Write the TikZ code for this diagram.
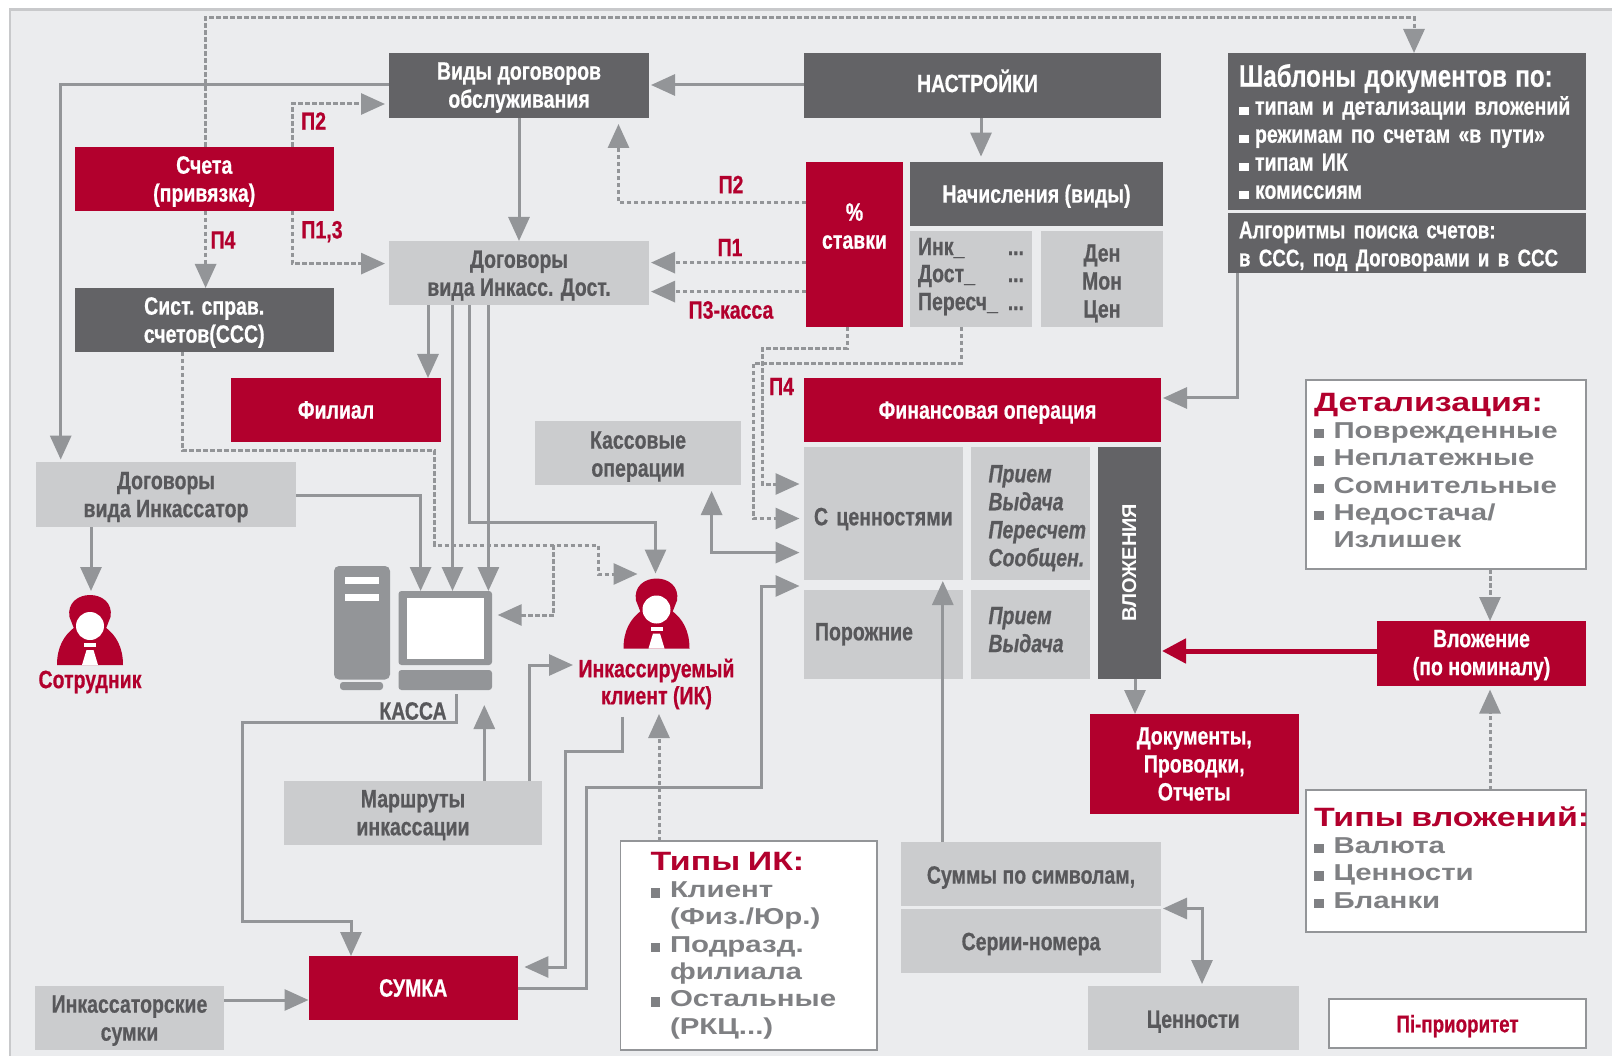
\documentclass[tikz,border=0pt]{standalone}
\usepackage{fontspec}
\usetikzlibrary{arrows.meta}
\setmainfont{Liberation Sans}
\newfontfamily\nar[FakeStretch=0.78,FakeBold=0.6]{Liberation Sans}
\newfontfamily\wid[FakeStretch=1.28]{Liberation Sans}
\definecolor{bgc}{HTML}{EBECEE}
\definecolor{edgec}{HTML}{C8C9CB}
\definecolor{darkc}{HTML}{636366}
\definecolor{lightc}{HTML}{CBCCCE}
\definecolor{redc}{HTML}{B2002D}
\definecolor{linec}{HTML}{939598}
\definecolor{inkc}{HTML}{58585B}
\definecolor{softc}{HTML}{7F8083}
\tikzset{
 box/.style={inner sep=0pt,outer sep=0pt,align=center,font=\nar\fontsize{25}{28}\selectfont\bfseries},
 darkbox/.style={box,fill=darkc,text=white},
 lightbox/.style={box,fill=lightc,text=inkc},
 redbox/.style={box,fill=redc,text=white},
 whitebox/.style={box,fill=white,draw=linec,line width=1.5pt,align=left,text=softc,font=\wid\fontsize{23}{27.3}\selectfont\bfseries},
 conn/.style={draw=linec,line width=3pt,-{Triangle[length=24pt,width=21pt]}},
 dconn/.style={conn,dash pattern=on 4.5pt off 2.5pt},
 both/.style={draw=linec,line width=3pt,{Triangle[length=24pt,width=21pt]}-{Triangle[length=24pt,width=21pt]}},
 redconn/.style={draw=redc,line width=5pt,-{Triangle[length=24pt,width=24pt]}},
 tag/.style={inner sep=0pt,text=redc,font=\nar\fontsize{25}{27}\selectfont\bfseries,align=center},
 person/.pic={
  \fill[redc] (-33,70) .. controls (-33,52) and (-26,40) .. (-15,32) -- (15,32) .. controls (26,40) and (33,52) .. (33,70) -- cycle;
  \fill[redc] (-15,36) -- (-20.5,22) .. controls (-23,8) and (-12,0) .. (0,0) .. controls (12,0) and (23,8) .. (20.5,22) -- (15,36) -- cycle;
  \fill[white] (0,31) ellipse [x radius=14,y radius=14];
  \fill[white] (-3.5,55) -- (3.5,55) -- (8,70) -- (-8,70) -- cycle;
  \fill[white] (-6,48) rectangle (6,52);
 }
}
\newcommand\bx[7]{\node[#2,minimum width={(#5-#3)*1pt},minimum height={(#6-#4)*1pt}] (#1) at ({(#3+#5)/2},{(#4+#6)/2}) {#7};}
\newcommand\lbx[8]{\pgfmathsetmacro\tw{#5-#3-2*#8}\node[#2,align=left,text width=\tw pt,inner xsep=#8pt,minimum height={(#6-#4)*1pt}] (#1) at ({(#3+#5)/2},{(#4+#6)/2}) {#7};}
\newcommand\sq{\rule{10pt}{8pt}\hspace{6pt}}
\newcommand\wsq{{\rule{9.5pt}{9.5pt}\hspace{10pt}}}
\newcommand\hd[1]{{\color{redc}\fontsize{26.5}{27.3}\selectfont\makebox[0pt][l]{#1}}}
% text nudges: \tz pushes a block down by about n px, \tu pulls it up
\newcommand\tz[1]{\rule{0pt}{\dimexpr18.5pt+#1pt+#1pt\relax}}
\newcommand\tu[1]{\rule[\dimexpr-5.5pt-#1pt-#1pt\relax]{0pt}{1pt}}
\begin{document}
\begin{tikzpicture}[x=1pt,y=-1pt]
\useasboundingbox (0,0) rectangle (1612,1056);
\fill[white] (0,0) rectangle (1612,1056);
\fill[edgec] (9,8) rectangle (1612,1056);
\fill[bgc] (10.5,11) rectangle (1612,1056);
% boxes
\bx{vidy}{darkbox}{389}{53}{649}{118}{\tz{1.5}Виды договоров\\обслуживания}
\bx{nast}{darkbox}{804}{53}{1161}{118}{НАСТРОЙКИ\hspace*{10pt}\tu{2}}
\bx{sch}{redbox}{74.5}{147}{334}{211}{\tz{2}Счета\\(привязка)}
\bx{sist}{darkbox}{74.5}{288}{334}{352}{\tz{2}Сист. справ.\\счетов(ССС)}
\bx{dost}{lightbox}{389}{241}{649}{305}{\tz{2}Договоры\\вида Инкасс. Дост.}
\bx{fil}{redbox}{231}{378}{441}{442}{Филиал}
\bx{kas}{lightbox}{535}{421}{741}{485}{\tz{3}Кассовые\\операции}
\bx{ink}{lightbox}{36}{462}{296}{527}{\tz{2}Договоры\\вида Инкассатор}
\bx{stav}{redbox}{806}{162}{903}{327}{\%\\ставки\rule[-37pt]{0pt}{1pt}}
\bx{nach}{darkbox}{910}{162}{1163}{226}{\tz{2}Начисления (виды)}
\lbx{inkd}{lightbox}{910}{231}{1032}{327}{\fontsize{25}{27}\selectfont Инк\_\hfill...\\Дост\_\hfill...\\Пересч\_\hfill...\rule[-10pt]{0pt}{1pt}}{8}
\bx{den}{lightbox}{1041}{231}{1163}{327}{\fontsize{25}{27}\selectfont\rule{0pt}{26pt}Ден\\Мон\\Цен}
\lbx{shab}{darkbox}{1228}{53}{1586}{210}{{\fontsize{31}{33}\selectfont Шаблоны документов по:}\\\sq типам и детализации вложений\\\sq режимам по счетам «в пути»\\\sq типам ИК\\\sq комиссиям}{11}
\lbx{algo}{darkbox}{1228}{213}{1586}{273}{\fontsize{24}{27}\selectfont\tz{2.5}Алгоритмы поиска счетов:\\в ССС, под Договорами и в ССС}{11}
\bx{fin}{redbox}{804}{378}{1161}{442}{\hspace*{10pt}\tz{2}Финансовая операция}
\lbx{det}{whitebox}{1306}{380}{1586}{569}{\hd{Детализация:}\\\wsq Поврежденные\\\wsq Неплатежные\\\wsq Сомнительные\\\wsq Недостача/\\\hspace{19.5pt}Излишек\tu{1.5}}{8}
\lbx{cenn}{lightbox}{804}{447}{963}{580}{\tz{5}С ценностями}{10}
\lbx{prv}{lightbox}{970.5}{447}{1090}{580}{\itshape\tz{4}Прием\\\itshape Выдача\\\itshape Пересчет\\\itshape Сообщен.}{18}
\lbx{porz}{lightbox}{804}{590}{963}{678.5}{Порожние}{11}
\lbx{prv2}{lightbox}{970.5}{590}{1090}{678.5}{\itshape Прием\\\itshape Выдача\tu{2}}{18}
\node[darkbox,minimum width=231.5pt,minimum height=63.5pt,rotate=90,font=\fontsize{20}{24}\selectfont\bfseries] (vl) at (1129.25,562.75) {ВЛОЖЕНИЯ};
\bx{vloz}{redbox}{1377}{621}{1586}{686}{\tz{1}Вложение\\(по номиналу)}
\bx{docs}{redbox}{1090}{714}{1298.5}{814}{Документы,\\Проводки,\\Отчеты}
\lbx{tipv}{whitebox}{1306}{790}{1586}{932}{\hd{Типы вложений:}\\\wsq Валюта\\\wsq Ценности\\\wsq Бланки\tu{1}}{8}
\bx{summ}{lightbox}{901}{842}{1161}{906}{\tz{3}Суммы по символам,}
\bx{seri}{lightbox}{901}{908.5}{1161}{972.5}{\tz{3}Серии-номера}
\bx{cen}{lightbox}{1088}{986}{1298.5}{1050}{\tz{3}Ценности}
\bx{prio}{whitebox,align=center,text=redc,font=\nar\fontsize{24}{27}\selectfont\bfseries}{1329}{999}{1586}{1048}{\tz{2}Пi-приоритет}
\bx{mar}{lightbox}{284}{780.5}{542}{844.5}{\tz{2}Маршруты\\инкассации}
\bx{sum}{redbox}{308.5}{956}{518}{1020}{СУМКА}
\bx{isum}{lightbox}{35}{986}{224}{1050}{\tz{2}Инкассаторские\\сумки}
\lbx{tipik}{whitebox}{620.5}{841}{877}{1050}{\hd{\hspace{22pt}Типы ИК:}\\\hspace{22pt}\wsq Клиент\\\hspace{41.5pt}(Физ./Юр.)\\\hspace{22pt}\wsq Подразд.\\\hspace{41.5pt}филиала\\\hspace{22pt}\wsq Остальные\\\hspace{41.5pt}(РКЦ...)}{8}
% computer
\fill[linec,rounded corners=5pt] (334,566) rectangle (390,679.5);
\fill[white] (345,577) rectangle (379,584);
\fill[white] (345,594) rectangle (379,601);
\fill[linec,rounded corners=3pt] (340,682) rectangle (383,690);
\fill[linec,rounded corners=3pt] (398.5,591) rectangle (492,665);
\fill[white] (407,598) rectangle (484,659);
\fill[linec,rounded corners=3pt] (398.5,670) rectangle (492,690);
\node[inner sep=0pt,text=inkc,font=\nar\fontsize{25}{26}\selectfont\bfseries] (kassa) at (413,711) {КАССА};
% people
\path (90,595) pic {person};
\path (656.5,578.5) pic {person};
\node[tag] (sotr) at (90,682) {Сотрудник};
\node[tag] (cli) at (656.5,684) {Инкассируемый\\клиент (ИК)};
% tags
\node[tag] (t1) at (731,184.5) {П2};
\node[tag] (t2) at (730,247.5) {П1};
\node[tag] (t3) at (731,310) {П3-касса};
\node[tag] (t4) at (781.5,386.5) {П4};
\node[tag] (t5) at (313.6,121) {П2};
\node[tag] (t6) at (322,231.6) {П1,3};
\node[tag] (t7) at (223,240) {П4};
% solid connectors
\draw[conn] (nast.west |- 0,85) -- (651,85);
\draw[conn] (vidy.west |- 0,85) -- (60.7,85) -- (60.7,459.6);
\draw[conn] (519,0 |- vidy.south) -- (519,0 |- dost.north);
\draw[conn] (981,0 |- nast.south) -- (981,156.6);
\draw[conn] (428,0 |- dost.south) -- (428,0 |- fil.north);
\draw[conn] (452.5,0 |- dost.south) -- (452.5,591);
\draw[conn] (488.4,0 |- dost.south) -- (488.4,591);
\draw[conn] (469.4,0 |- dost.south) -- (469.4,522.5) -- (655.5,522.5) -- (655.5,573.5);
\draw[conn] (ink.east |- 0,495) -- (420.6,495) -- (420.6,591);
\draw[conn] (91,0 |- ink.south) -- (91,591);
\draw[conn] (484.3,0 |- mar.north) -- (484.3,705);
\draw[conn] (529.6,0 |- mar.north) -- (529.6,665) -- (573,665);
\draw[conn] (622,716.5) -- (622,751) -- (565.6,751) -- (565.6,967) -- (524.4,967);
\draw[conn] (sum.east |- 0,988.6) -- (586,988.6) -- (586,787) -- (761,787) -- (761,586) -- (799.5,586);
\draw[conn] (456.5,694) -- (456.5,722) -- (242,722) -- (242,921) -- (351,921) -- (351,0 |- sum.north);
\draw[conn] (isum.east |- 0,1000) -- (sum.west |- 0,1000);
\draw[both] (711.6,491) -- (711.6,552.6) -- (799.5,552.6);
\draw[conn] (942.8,0 |- summ.north) -- (942.8,581);
\draw[conn] (1237,0 |- algo.south) -- (1237,398) -- (1163,398);
\draw[conn] (1135,678.5) -- (1135,0 |- docs.north);
\draw[both] (1163,908.5) -- (1202,908.5) -- (1202,984);
\draw[redconn] (vloz.west |- 0,651) -- (1162,651);
% dashed connectors
\draw[dconn] (205.6,0 |- sch.north) -- (205.6,17.5) -- (1414,17.5) -- (1414,0 |- shab.north);
\draw[dconn] (292,0 |- sch.north) -- (292,104) -- (385,104);
\draw[dconn] (292,0 |- sch.south) -- (292,263.6) -- (385,263.6);
\draw[dconn] (205.6,0 |- sch.south) -- (205.6,0 |- sist.north);
\draw[dconn] (stav.west |- 0,202.7) -- (618.5,202.7) -- (618.5,124);
\draw[dconn] (stav.west |- 0,262.6) -- (651,262.6);
\draw[dconn] (stav.west |- 0,291.6) -- (651,291.6);
\draw[dconn] (847,0 |- stav.south) -- (847,348.5) -- (762.5,348.5) -- (762.5,484) -- (799.5,484);
\draw[dconn] (961,0 |- inkd.south) -- (961,363.6) -- (753,363.6) -- (753,518.5) -- (799.5,518.5);
\draw[dconn] (182.5,0 |- sist.south) -- (182.5,450.5) -- (434.5,450.5) -- (434.5,545) -- (598,545) -- (598,574) -- (637.5,574);
\draw[dconn] (553.7,545) -- (553.7,615) -- (497.7,615);
\draw[dconn] (659,0 |- tipik.north) -- (659,714);
\draw[dconn] (1490,0 |- det.south) -- (1490,0 |- vloz.north);
\draw[dconn] (1490,0 |- tipv.north) -- (1490,689.6);
\end{tikzpicture}
\end{document}
